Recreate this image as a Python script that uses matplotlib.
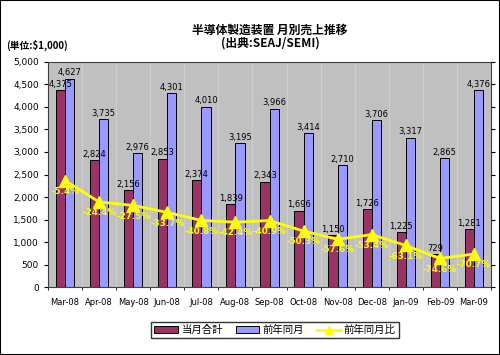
import matplotlib
matplotlib.use("Agg")
import matplotlib.pyplot as plt
import numpy as np
from matplotlib.patches import Rectangle

plt.rcParams['font.family'] = ['Noto Sans CJK JP', 'DejaVu Sans']

months = ["Mar-08", "Apr-08", "May-08", "Jun-08", "Jul-08", "Aug-08", "Sep-08",
          "Oct-08", "Nov-08", "Dec-08", "Jan-09", "Feb-09", "Mar-09"]
current = [4375, 2824, 2156, 2853, 2374, 1839, 2343, 1696, 1150, 1726, 1225, 729, 1281]
previous = [4627, 3735, 2976, 4301, 4010, 3195, 3966, 3414, 2710, 3706, 3317, 2865, 4376]
ratio = [-5.4, -24.4, -27.5, -33.7, -40.8, -42.4, -40.9, -50.3, -57.6, -53.4, -63.1, -74.6, -70.7]

fig = plt.figure(figsize=(5.0, 3.55), dpi=100)
fig.patches.append(Rectangle((0, 0), 1, 1, transform=fig.transFigure,
                             fill=False, edgecolor='black', linewidth=1.5))

ax = fig.add_axes([0.096, 0.1915, 0.886, 0.6339])
ax.set_facecolor('#C0C0C0')
x = np.arange(len(months))
w = 0.27
b1 = ax.bar(x - w / 2, current, w, color='#993366', edgecolor='black', linewidth=0.7,
            label='当月合計', zorder=2)
b2 = ax.bar(x + w / 2, previous, w, color='#9999FF', edgecolor='black', linewidth=0.7,
            label='前年同月', zorder=2)
for xi, v in zip(x, current):
    ax.text(xi - w / 2, v + 30, f"{v:,}", ha='center', va='bottom', fontsize=6,
            family=['DejaVu Sans'], zorder=5)
for xi, v in zip(x, previous):
    ax.text(xi + w / 2, v + 30, f"{v:,}", ha='center', va='bottom', fontsize=6,
            family=['DejaVu Sans'], zorder=5)

ax.set_xlim(-0.5, len(months) - 0.5)
ax.set_ylim(0, 5000)
ax.set_yticks(np.arange(0, 5001, 500))
ax.set_yticklabels([f"{v:,}" for v in range(0, 5001, 500)], fontsize=6.5, family=['DejaVu Sans'])
ax.set_xticks(x)
ax.set_xticklabels(months, fontsize=6, family=['DejaVu Sans'])
ax.tick_params(axis='x', length=0, pad=8)
ax.tick_params(axis='y', length=3)
ax.set_xticks(np.arange(-0.5, len(months), 0.5), minor=True)
ax.tick_params(axis='x', which='minor', length=2.5)
ax.grid(False)
for b in np.arange(0.5, len(months) - 0.5, 1):
    ax.axvline(b, color='#CFCFCF', linewidth=0.7, zorder=1)
for s in ax.spines.values():
    s.set_color('#404040')
    s.set_linewidth(0.8)

ax2 = ax.twinx()
ax2.set_ylim(-100, 100)
ax2.set_yticks(np.arange(-100, 101, 20))
ax2.set_yticklabels([])
ax2.tick_params(axis='y', length=3)
ln, = ax2.plot(x, ratio, color='#FFFF00', linewidth=2, marker='^', markersize=8,
               label='前年同月比', zorder=4)
for xi, r in zip(x, ratio):
    ax2.text(xi, r - 9.5, f"{r:.1f}%", ha='center', va='center', fontsize=6.3,
             fontweight='bold', color='#FFFF00', family=['DejaVu Sans'], zorder=5)
for s in ax2.spines.values():
    s.set_visible(False)

fig.text(0.54, 0.915, "半導体製造装置 月別売上推移", ha='center', va='center',
         fontsize=8.5, fontweight='bold')
fig.text(0.54, 0.878, "(出典:SEAJ/SEMI)", ha='center', va='center',
         fontsize=8.5, fontweight='bold')
fig.text(0.012, 0.872, "(単位:$1,000)", ha='left', va='center', fontsize=7, fontweight='bold')

leg = fig.legend(handles=[b1, b2, ln], loc='center', bbox_to_anchor=(0.55, 0.07),
                 ncol=3, fontsize=7.5, frameon=True, fancybox=False, edgecolor='black',
                 handlelength=2.3, handletextpad=0.3, columnspacing=1.2,
                 borderpad=0.3, markerscale=0.7)
leg.get_frame().set_linewidth(1.0)

fig.savefig("out.png", dpi=100)
